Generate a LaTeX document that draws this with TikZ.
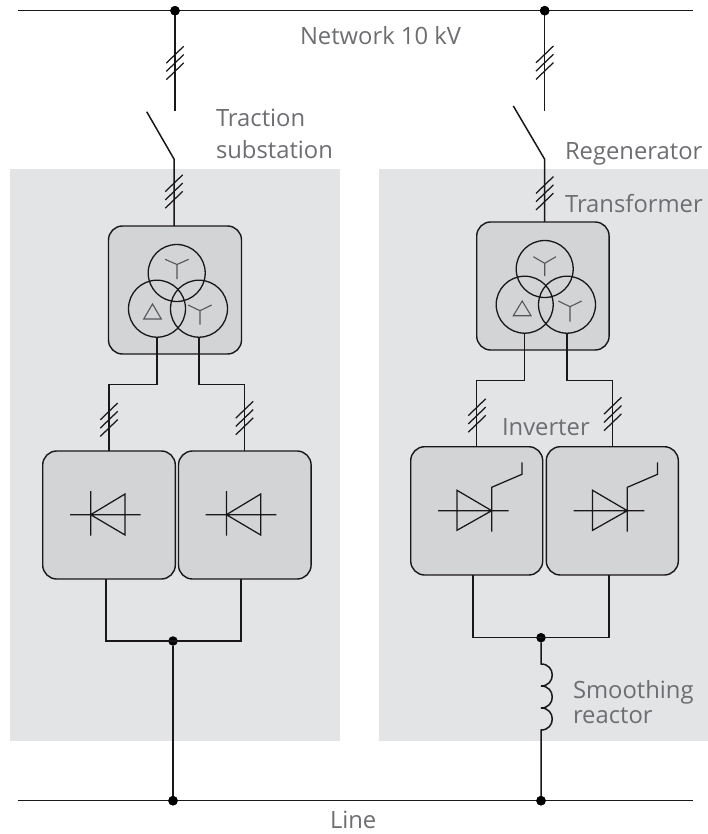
\documentclass[tikz,border=0pt]{standalone}
\usepackage{fontspec}
\setmainfont{Open Sans}
\definecolor{panelgray}{HTML}{E3E4E6}
\definecolor{boxgray}{HTML}{D3D4D6}
\definecolor{ink}{HTML}{1A1718}
\definecolor{labelgray}{HTML}{6D6E71}
\definecolor{glyphgray}{HTML}{55565A}
\tikzset{
  panel/.style={fill=panelgray,draw=none},
  unitbox/.style={draw=ink,fill=boxgray,line width=1.4pt,rounded corners=14pt,inner sep=0pt,outer sep=0pt},
  winding/.style={circle,draw=ink,line width=1.3pt,minimum size=57pt,inner sep=0pt,outer sep=0pt},
  wire/.style={draw=ink,line width=1.5pt},
  thinwire/.style={draw=ink,line width=1.4pt},
  glyph/.style={draw=glyphgray,line width=1.1pt},
  sym/.style={draw=ink,line width=1.25pt},
  dotnode/.style={circle,fill=black,inner sep=0pt,minimum size=9.5pt,outer sep=0pt},
  lbl/.style={text=labelgray,font=\fontsize{23.8}{28}\selectfont,anchor=base west,inner sep=0pt,outer sep=0pt},
}
\newcommand{\tickmarks}[2]{%
  \draw[sym] (#1-8.7,#2+8.3+8.4) -- (#1+8.7,#2+8.3-8.4)
             (#1-8.7,#2+8.4) -- (#1+8.7,#2-8.4)
             (#1-8.7,#2-8.3+8.4) -- (#1+8.7,#2-8.3-8.4);}
\newcommand{\diodeL}[2]{%
  \draw[sym] (#1-20.7,#2) -- (#1+50,#2)
             (#1,#2-23.7) -- (#1,#2+21)
             (#1,#2) -- (#1+34.3,#2-20.7) -- (#1+34.3,#2+20.3) -- cycle;}
\newcommand{\thyristorR}[2]{%
  \draw[sym] (#1-53.7,#2) -- (#1+17,#2)
             (#1-34.7,#2-20.4) -- (#1,#2) -- (#1-34.7,#2+19.6) -- cycle
             (#1,#2+21) -- (#1,#2-23.4) -- (#1+30.3,#2-36.4) -- (#1+30.3,#2-48.4);}
\begin{document}
\begin{tikzpicture}[x=1pt,y=-1pt]
\useasboundingbox (0,0) rectangle (708,834);
\fill[panel] (10,169) rectangle (340,741);
\fill[panel] (379,169) rectangle (708,741);

% bus bars
\coordinate (busTL) at (18,10.7);
\coordinate (busTR) at (692.7,10.7);
\coordinate (busBL) at (18,800.7);
\coordinate (busBR) at (692.7,800.7);
\node[dotnode] (dotTL) at (175,10.7) {};
\node[dotnode] (dotTR) at (544.7,10.7) {};
\node[dotnode] (dotBL) at (173,800.7) {};
\node[dotnode] (dotBR) at (541,800.7) {};

% unit boxes, left
\node[unitbox,minimum width=133pt,minimum height=128pt] (trL) at (175,290) {};
\node[unitbox,minimum width=132.6pt,minimum height=128pt] (rect1) at (109,515) {};
\node[unitbox,minimum width=132.6pt,minimum height=128pt] (rect2) at (244.8,515) {};
% unit boxes, right
\node[unitbox,minimum width=132.4pt,minimum height=128pt] (trR) at (542.9,286) {};
\node[unitbox,minimum width=132pt,minimum height=128.3pt] (inv1) at (476.7,510.85) {};
\node[unitbox,minimum width=132pt,minimum height=128.3pt] (inv2) at (612.3,510.85) {};

% windings
\node[winding] (cLt) at (176.7,273) {};
\node[winding] (cLa) at (157,308.7) {};
\node[winding] (cLb) at (199,308.7) {};
\node[winding] (cRt) at (544.7,269) {};
\node[winding] (cRa) at (524.7,304.7) {};
\node[winding] (cRb) at (567,304.7) {};

% left branch
\coordinate (swLtop) at (175,111);
\coordinate (swLblade) at (146.7,111.7);
\coordinate (swLpiv) at (174,159);
\draw[wire] (dotTL) -- (swLtop);
\draw[wire] (swLblade) -- (swLpiv) -- (swLpiv |- trL.north);
\tickmarks{175}{63}
\tickmarks{174}{191.5}
\coordinate (jLa) at (109,384.7);
\coordinate (jLb) at (244.7,384.7);
\draw[thinwire] (cLa.south) -- (cLa.south |- jLa) -- (jLa) -- (jLa |- rect1.north);
\draw[thinwire] (cLb.south) -- (cLb.south |- jLb) -- (jLb) -- (jLb |- rect2.north);
\tickmarks{109}{419.7}
\tickmarks{244.5}{418}
\coordinate (colL1) at (106,641);
\coordinate (colL2) at (241,641);
\node[dotnode] (dotLmid) at (173,641) {};
\draw[wire] (colL1 |- rect1.south) -- (colL1) -- (colL2) -- (colL2 |- rect2.south);
\draw[wire] (dotLmid) -- (dotBL);

% right branch
\coordinate (swRtop) at (544.7,110.7);
\coordinate (swRblade) at (513.3,106);
\coordinate (swRpiv) at (544.5,159);
\draw[wire] (dotTR) -- (swRtop);
\draw[wire] (swRblade) -- (swRpiv) -- (swRpiv |- trR.north);
\tickmarks{544.7}{62.7}
\tickmarks{544.7}{193.3}
\coordinate (jRa) at (476.7,380.7);
\coordinate (jRb) at (612.4,380.7);
\draw[thinwire] (cRa.south) -- (cRa.south |- jRa) -- (jRa) -- (jRa |- inv1.north);
\draw[thinwire] (cRb.south) -- (cRb.south |- jRb) -- (jRb) -- (jRb |- inv2.north);
\tickmarks{477}{415.5}
\tickmarks{612.7}{414}
\coordinate (colR1) at (473,637.7);
\coordinate (colR2) at (609,637.7);
\node[dotnode] (dotRmid) at (541,637.7) {};
\draw[wire] (colR1 |- inv1.south) -- (colR1) -- (colR2) -- (colR2 |- inv2.south);
\coordinate (coilA) at (541,664);
\coordinate (coilB) at (541,686);
\coordinate (coilC) at (541,708);
\coordinate (coilD) at (541,730);
\draw[wire] (dotRmid) -- (coilA)
  .. controls (556,664) and (556,686) .. (coilB)
  .. controls (556,686) and (556,708) .. (coilC)
  .. controls (556,708) and (556,730) .. (coilD)
  -- (dotBR);

% bus bars on top of junctions
\draw[wire] (busTL) -- (busTR);
\draw[wire] (busBL) -- (busBR);
\node[dotnode] at (dotTL) {};
\node[dotnode] at (dotTR) {};
\node[dotnode] at (dotBL) {};
\node[dotnode] at (dotBR) {};

% winding glyphs, left
\draw[glyph] (165,259.3) -- (177,264.5) -- (188.7,259.3) (177,264.5) -- (177,279);
\draw[glyph] (188,305) -- (200,310.7) -- (211.7,305) (200,310.7) -- (200,324.7);
\draw[glyph] (143.7,319) -- (161.3,319) -- (152.5,304) -- cycle;
% winding glyphs, right
\draw[glyph] (533.3,256.7) -- (544.7,263.3) -- (556,256.7) (544.7,263.3) -- (544.7,276);
\draw[glyph] (558.3,301) -- (570,306.7) -- (581.7,301) (570,306.7) -- (570,321.7);
\draw[glyph] (513.3,315.7) -- (531,315.7) -- (522.2,301) -- cycle;

% semiconductors
\diodeL{90.7}{514.7}
\diodeL{226.4}{514.7}
\thyristorR{491.7}{510.7}
\thyristorR{627.3}{510.7}

% labels
\node[lbl] (lNet) at (300,44.5) {Network 10 kV};
\node[lbl] (lTra) at (216,127) {Traction};
\node[lbl] (lSub) at (216,159) {substation};
\node[lbl] (lReg) at (565,160) {Regenerator};
\node[lbl] (lTrf) at (565,212) {Transformer};
\node[lbl] (lInv) at (502,435) {Inverter};
\node[lbl] (lSmo) at (573,698) {Smoothing};
\node[lbl] (lRea) at (573,723) {reactor};
\node[lbl] (lLin) at (330,828) {Line};
\end{tikzpicture}
\end{document}
